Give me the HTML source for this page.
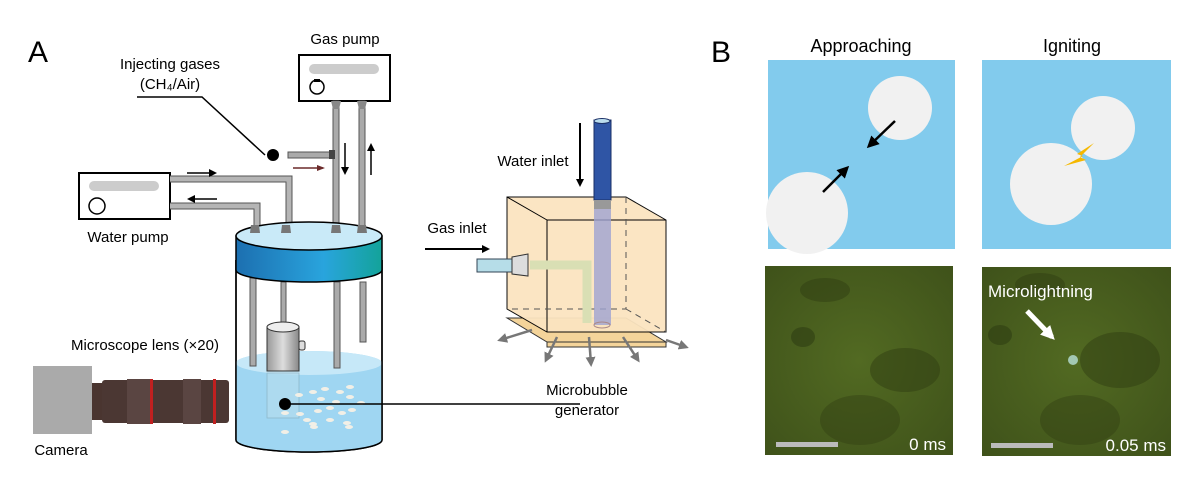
<!DOCTYPE html>
<html><head><meta charset="utf-8"><style>
html,body{margin:0;padding:0;background:#fff;}
svg{display:block;font-family:"Liberation Sans",Arial,sans-serif;}
</style></head><body>
<svg width="1200" height="488" viewBox="0 0 1200 488" xmlns="http://www.w3.org/2000/svg">
<defs>
<linearGradient id="band" x1="0" x2="1"><stop offset="0" stop-color="#1c6fb0"/><stop offset="0.6" stop-color="#29a4dd"/><stop offset="1" stop-color="#13a39a"/></linearGradient>
<linearGradient id="gen" x1="0" x2="1"><stop offset="0" stop-color="#999"/><stop offset="0.5" stop-color="#ddd"/><stop offset="1" stop-color="#888"/></linearGradient>
<radialGradient id="ph1" cx="0.5" cy="0.5" r="0.7"><stop offset="0" stop-color="#526a22"/><stop offset="1" stop-color="#3f521a"/></radialGradient>
<marker id="ah" markerWidth="8" markerHeight="8" refX="6" refY="4" orient="auto" markerUnits="userSpaceOnUse"><path d="M0,0 L8,4 L0,8 z" fill="#000"/></marker>
<marker id="ab" markerWidth="12" markerHeight="12" refX="9" refY="6" orient="auto" markerUnits="userSpaceOnUse"><path d="M0,0 L12,6 L0,12 z" fill="#000"/></marker>
<marker id="ag" markerWidth="10" markerHeight="10" refX="7" refY="5" orient="auto" markerUnits="userSpaceOnUse"><path d="M0,0 L10,5 L0,10 z" fill="#777"/></marker>
<marker id="ar" markerWidth="8" markerHeight="8" refX="6" refY="4" orient="auto" markerUnits="userSpaceOnUse"><path d="M0,1 L8,4 L0,7 z" fill="#6b2a2a"/></marker>
<marker id="aw" markerWidth="14" markerHeight="14" refX="10" refY="7" orient="auto" markerUnits="userSpaceOnUse"><path d="M0,0 L14,7 L0,14 z" fill="#fff"/></marker>
</defs>

<!-- Panel A -->
<text x="28" y="62" font-size="30">A</text>
<text x="345" y="44" font-size="15" text-anchor="middle">Gas pump</text>
<text x="170" y="69" font-size="15" text-anchor="middle">Injecting gases</text>
<text x="170" y="89" font-size="15" text-anchor="middle">(CH₄/Air)</text>
<polyline points="137,97 202,97 265,155" fill="none" stroke="#000" stroke-width="1.5"/>
<circle cx="273" cy="155" r="6" fill="#000"/>

<rect x="299" y="55" width="91" height="46" fill="#fff" stroke="#000" stroke-width="2"/>
<rect x="309" y="64" width="70" height="10" rx="5" fill="#ccc"/>
<circle cx="317" cy="87" r="7" fill="#fff" stroke="#000" stroke-width="1.5"/>
<rect x="314" y="79" width="6" height="3" fill="#000"/>
<rect x="333" y="101" width="6" height="128" fill="#aaa" stroke="#555" stroke-width="1"/>
<rect x="359" y="101" width="6" height="128" fill="#aaa" stroke="#555" stroke-width="1"/>
<path d="M331,101 h10 l-2,8 h-6z" fill="#888"/><path d="M357,101 h10 l-2,8 h-6z" fill="#888"/>
<rect x="288" y="152" width="45" height="6" fill="#aaa" stroke="#555"/>
<rect x="329" y="150" width="6" height="9" fill="#444"/>
<line x1="293" y1="168" x2="323" y2="168" stroke="#6b2a2a" stroke-width="1.5" marker-end="url(#ar)"/>
<line x1="345" y1="143" x2="345" y2="173" stroke="#000" stroke-width="1.5" marker-end="url(#ah)"/>
<line x1="371" y1="175" x2="371" y2="145" stroke="#000" stroke-width="1.5" marker-end="url(#ah)"/>

<rect x="79" y="173" width="91" height="46" fill="#fff" stroke="#000" stroke-width="2"/>
<rect x="89" y="181" width="70" height="10" rx="5" fill="#ccc"/>
<circle cx="97" cy="206" r="8" fill="#fff" stroke="#000" stroke-width="1.5"/>
<path d="M170,179 H289 V228" fill="none" stroke="#555" stroke-width="7"/>
<path d="M170,179 H289 V228" fill="none" stroke="#b5b5b5" stroke-width="5"/>
<path d="M170,206 H257 V228" fill="none" stroke="#555" stroke-width="7"/>
<path d="M170,206 H257 V228" fill="none" stroke="#b5b5b5" stroke-width="5"/>
<line x1="187" y1="173" x2="215" y2="173" stroke="#000" stroke-width="1.5" marker-end="url(#ah)"/>
<line x1="217" y1="199" x2="189" y2="199" stroke="#000" stroke-width="1.5" marker-end="url(#ah)"/>
<text x="128" y="242" font-size="15" text-anchor="middle">Water pump</text>

<path d="M236,260 V440 A73,12 0 0 0 382,440 V260" fill="#fff" stroke="#000" stroke-width="1.5"/>
<path d="M236,363 A73,12 0 0 1 382,363 V440 A73,12 0 0 1 236,440 Z" fill="#9fd6f2"/>
<ellipse cx="309" cy="363" rx="73" ry="12" fill="#c6e8f8"/>
<path d="M236,260 V440 A73,12 0 0 0 382,440 V260" fill="none" stroke="#000" stroke-width="1.5"/>
<rect x="250" y="278" width="6" height="88" fill="#aaa" stroke="#555"/>
<rect x="334" y="282" width="6" height="86" fill="#aaa" stroke="#555"/>
<rect x="360" y="282" width="6" height="60" fill="#aaa" stroke="#555"/>
<rect x="281" y="282" width="5" height="42" fill="#aaa" stroke="#555"/>
<rect x="267" y="373" width="32" height="45" fill="#b4dcef" opacity="0.7" stroke="#8ab" stroke-width="0.8"/>
<rect x="267" y="327" width="32" height="44" fill="url(#gen)" stroke="#333"/>
<ellipse cx="283" cy="327" rx="16" ry="5" fill="#eee" stroke="#333"/>
<rect x="299" y="341" width="6" height="9" rx="2" fill="#ddd" stroke="#333"/>
<g fill="#f2efe6">
<ellipse cx="299" cy="395" rx="4" ry="2"/><ellipse cx="313" cy="392" rx="4" ry="2"/><ellipse cx="325" cy="389" rx="4" ry="2"/><ellipse cx="340" cy="392" rx="4" ry="2"/><ellipse cx="350" cy="387" rx="4" ry="2"/>
<ellipse cx="321" cy="399" rx="4" ry="2"/><ellipse cx="336" cy="402" rx="4" ry="2"/><ellipse cx="350" cy="397" rx="4" ry="2"/><ellipse cx="361" cy="403" rx="4" ry="2"/>
<ellipse cx="318" cy="411" rx="4" ry="2"/><ellipse cx="330" cy="408" rx="4" ry="2"/><ellipse cx="342" cy="413" rx="4" ry="2"/><ellipse cx="352" cy="410" rx="4" ry="2"/>
<ellipse cx="300" cy="414" rx="4" ry="2"/><ellipse cx="285" cy="413" rx="4" ry="2"/><ellipse cx="307" cy="420" rx="4" ry="2"/><ellipse cx="330" cy="420" rx="4" ry="2"/><ellipse cx="347" cy="423" rx="4" ry="2"/>
<ellipse cx="314" cy="427" rx="4" ry="2"/><ellipse cx="349" cy="427" rx="4" ry="2"/><ellipse cx="285" cy="432" rx="4" ry="2"/><ellipse cx="313" cy="424" rx="4" ry="2"/></g>
<path d="M236,236 V270 A73,12 0 0 0 382,270 V236 Z" fill="url(#band)" stroke="#000" stroke-width="1.5"/>
<ellipse cx="309" cy="236" rx="73" ry="14" fill="#c9eaf8" stroke="#000" stroke-width="1.5"/>
<g fill="#777"><path d="M251,225 h8 l1,8 h-10z"/><path d="M282,225 h8 l1,8 h-10z"/><path d="M332,225 h8 l1,8 h-10z"/><path d="M358,225 h8 l1,8 h-10z"/></g>
<line x1="285" y1="404" x2="580" y2="404" stroke="#000" stroke-width="1.5"/>
<circle cx="285" cy="404" r="6" fill="#000"/>

<text x="145" y="350" font-size="15" text-anchor="middle">Microscope lens (×20)</text>
<rect x="33" y="366" width="59" height="68" fill="#aaa"/>
<rect x="92" y="383" width="15" height="37" fill="#4a3530"/>
<rect x="102" y="380" width="127" height="43" rx="3" fill="#4b3733"/>
<rect x="127" y="379" width="24" height="45" fill="#5a4542"/>
<rect x="183" y="379" width="18" height="45" fill="#5a4542"/>
<rect x="150" y="379" width="3" height="45" fill="#c02020"/>
<rect x="213" y="379" width="3" height="45" fill="#c02020"/>
<text x="61" y="455" font-size="15" text-anchor="middle">Camera</text>

<text x="533" y="166" font-size="15" text-anchor="middle">Water inlet</text>
<line x1="580" y1="123" x2="580" y2="185" stroke="#000" stroke-width="2" marker-end="url(#ah)"/>
<text x="457" y="233" font-size="15" text-anchor="middle">Gas inlet</text>
<line x1="425" y1="249" x2="488" y2="249" stroke="#000" stroke-width="2" marker-end="url(#ah)"/>
<path d="M507,318 L547,342 H666 L626,318 Z" fill="#f4d49a" stroke="#333"/>
<path d="M547,342 H666 V347 H547 Z" fill="#f4d49a" stroke="#333"/>
<path d="M507,197 H626 L666,220 V332 H547 L507,309 Z" fill="#fbe4c0" opacity="0.95" stroke="#000"/>
<line x1="547" y1="220" x2="666" y2="220" stroke="#000"/><line x1="507" y1="197" x2="547" y2="220" stroke="#000"/><line x1="547" y1="220" x2="547" y2="332" stroke="#000"/>
<path d="M626,197 V309 H507 M626,309 L666,332" fill="none" stroke="#555" stroke-dasharray="6,5"/>
<path d="M530,265 H587 V323" fill="none" stroke="#d9dfb4" stroke-width="9"/>
<rect x="594" y="205" width="17" height="120" fill="#9fa3d2" opacity="0.8"/>
<ellipse cx="602" cy="325" rx="8" ry="3" fill="none" stroke="#a88"/>
<rect x="594" y="120" width="17" height="80" fill="#2f55a5" stroke="#1a2f66"/>
<rect x="594" y="200" width="17" height="9" fill="#999"/>
<ellipse cx="602" cy="121" rx="8" ry="2.5" fill="#bde" stroke="#1a2f66"/>
<rect x="477" y="259" width="38" height="13" fill="#b6dde8" stroke="#345"/>
<path d="M512,257 L528,254 V276 L512,274 Z" fill="#ddd" stroke="#333"/>
<g stroke="#777" stroke-width="2.5" fill="none">
<line x1="532" y1="330" x2="500" y2="340" marker-end="url(#ag)"/>
<line x1="557" y1="337" x2="546" y2="360" marker-end="url(#ag)"/>
<line x1="589" y1="337" x2="591" y2="364" marker-end="url(#ag)"/>
<line x1="623" y1="337" x2="638" y2="360" marker-end="url(#ag)"/>
<line x1="666" y1="340" x2="686" y2="347" marker-end="url(#ag)"/></g>
<text x="587" y="395" font-size="15" text-anchor="middle">Microbubble</text>
<text x="587" y="415" font-size="15" text-anchor="middle">generator</text>

<!-- Panel B -->
<text x="711" y="62" font-size="30">B</text>
<text x="861" y="52" font-size="18" text-anchor="middle">Approaching</text>
<text x="1072" y="52" font-size="18" text-anchor="middle">Igniting</text>
<rect x="768" y="60" width="187" height="189" fill="#82cbed"/>
<circle cx="900" cy="108" r="32" fill="#f1f1f1"/>
<circle cx="807" cy="213" r="41" fill="#f1f1f1"/>
<line x1="895" y1="121" x2="869" y2="146" stroke="#000" stroke-width="2.5" marker-end="url(#ab)"/>
<line x1="823" y1="192" x2="847" y2="168" stroke="#000" stroke-width="2.5" marker-end="url(#ab)"/>
<rect x="982" y="60" width="189" height="189" fill="#82cbed"/>
<circle cx="1103" cy="128" r="32" fill="#f1f1f1"/>
<circle cx="1051" cy="184" r="41" fill="#f1f1f1"/>
<path d="M1094,143 L1077,154 L1083,156 L1064,166 L1086,160 L1080,157 Z" fill="#f5b800"/>
<rect x="765" y="266" width="188" height="189" fill="url(#ph1)"/>
<ellipse cx="825" cy="290" rx="25" ry="12" fill="#2f3d12" opacity="0.5"/>
<ellipse cx="803" cy="337" rx="12" ry="10" fill="#2f3d12" opacity="0.6"/>
<ellipse cx="905" cy="370" rx="35" ry="22" fill="#2f3d12" opacity="0.5"/>
<ellipse cx="860" cy="420" rx="40" ry="25" fill="#2f3d12" opacity="0.4"/>
<rect x="776" y="442" width="62" height="5" fill="#bbb"/>
<text x="946" y="450" font-size="17" fill="#fff" text-anchor="end">0 ms</text>
<rect x="982" y="267" width="189" height="189" fill="url(#ph1)"/>
<ellipse cx="1040" cy="285" rx="25" ry="12" fill="#2f3d12" opacity="0.5"/>
<ellipse cx="1000" cy="335" rx="12" ry="10" fill="#2f3d12" opacity="0.6"/>
<ellipse cx="1120" cy="360" rx="40" ry="28" fill="#2f3d12" opacity="0.5"/>
<ellipse cx="1080" cy="420" rx="40" ry="25" fill="#2f3d12" opacity="0.4"/>
<circle cx="1073" cy="360" r="5" fill="#b8e0d8" opacity="0.8"/>
<text x="988" y="297" font-size="17" fill="#fff">Microlightning</text>
<line x1="1027" y1="311" x2="1052" y2="337" stroke="#fff" stroke-width="5" marker-end="url(#aw)"/>
<rect x="991" y="443" width="62" height="5" fill="#bbb"/>
<text x="1166" y="451" font-size="17" fill="#fff" text-anchor="end">0.05 ms</text>
</svg>
</body></html>
